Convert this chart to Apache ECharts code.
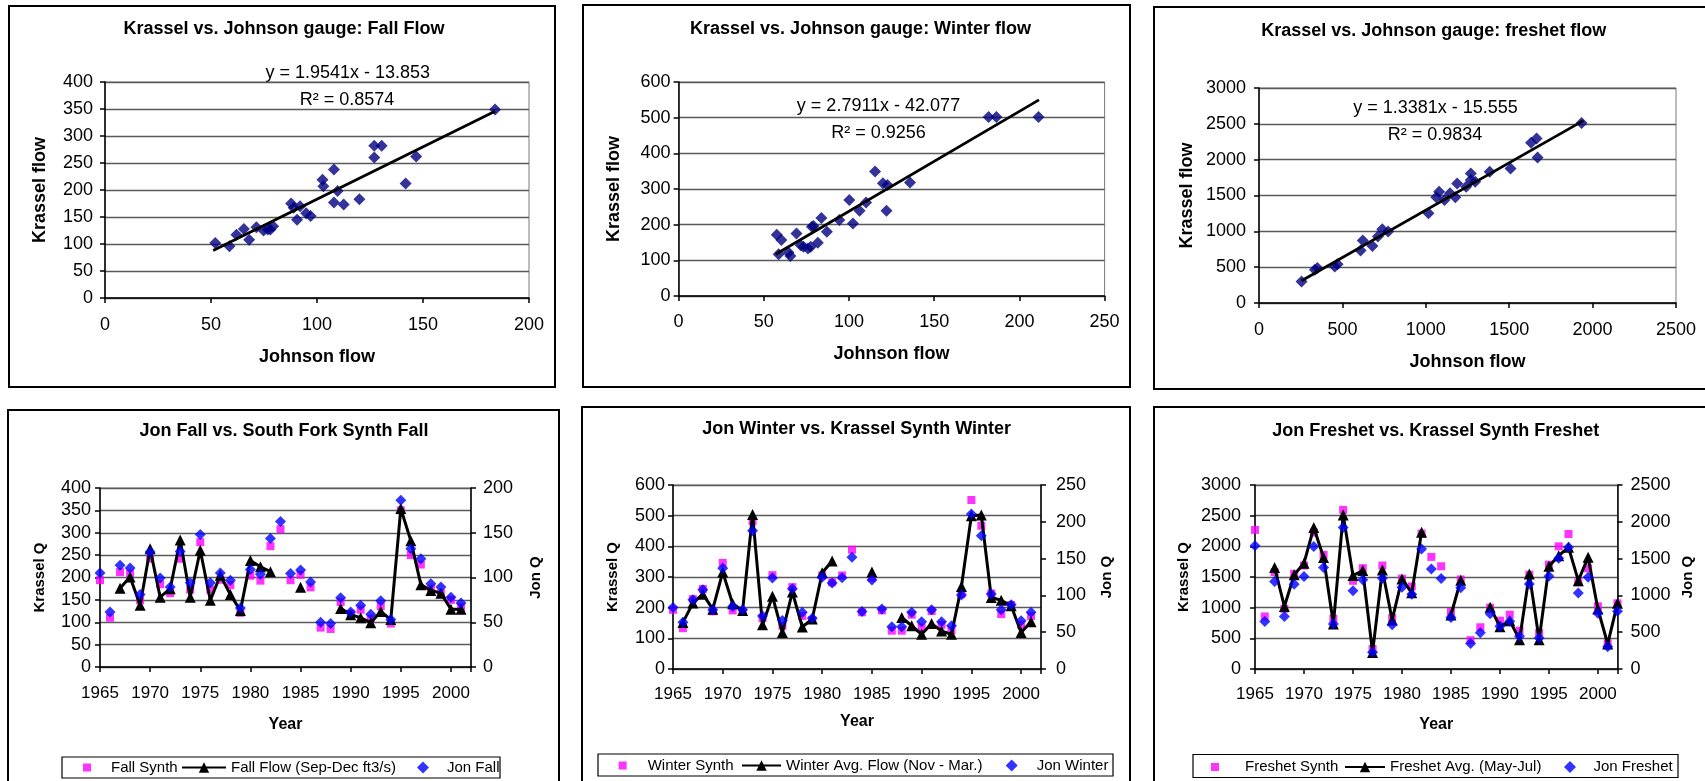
<!DOCTYPE html>
<html>
<head>
<meta charset="utf-8">
<script src="https://cdn.jsdelivr.net/npm/echarts@6/dist/echarts.min.js"></script>
<style>
html,body{margin:0;padding:0;background:#fff;}
#c{width:1705px;height:781px;}
</style>
</head>
<body>
<div id="c"></div>
<script>
// ---------------- DATA ----------------
const years = [1965,1966,1967,1968,1969,1970,1971,1972,1973,1974,1975,1976,1977,1978,1979,1980,1981,1982,1983,1984,1985,1986,1987,1988,1989,1990,1991,1992,1993,1994,1995,1996,1997,1998,1999,2000,2001,2002];

// Fall time series
const fallSynth = [194,110,212,209,149,242,185,165,242,173,279,173,195,183,121,204,193,270,308,194,206,178,88,85,145,119,128,108,136,97,350,250,229,175,165,150,134,null];
const fallFlow  = [null,null,176,201,138,264,156,175,284,156,261,149,205,162,126,238,224,213,null,null,178,null,null,null,131,117,110,99,124,106,354,282,184,171,165,129,129,null];
const jonFall   = [105,61.5,113.6,110.6,81,128.5,99.4,89.4,129,94,148,94,105,97,66,109,103.5,143.5,162.5,104.5,108.5,95,50,48.5,77.4,61.4,69,59,74,53,186.4,132,121,93,89.4,78,71.6,null];

// Winter time series
const winterSynth = [193,133,228,261,188,346,191,188,482,166,306,141,267,173,160,305,283,305,389,185,298,191,125,125,177,135,189,144,126,244,551,467,246,179,209,144,173,null];
const winterFlow  = [null,152,215,244,195,316,213,191,504,144,237,119,251,137,163,314,352,null,null,null,316,null,null,168,141,113,148,124,113,269,500,502,233,224,206,119,154,null];
const jonWinter   = [83.6,63.6,94,107.7,80.4,137,85,80.4,188,72,123.6,66,109,77,69,124.5,116.7,124,152,78,121,81.5,57.5,57.5,77,64.3,80.6,64.3,58.9,100.5,210.6,181,102,80.6,87.4,65.7,77,null];

// Freshet time series
const freshetSynth = [2268,857,1579,982,1552,1687,2225,1861,819,2594,1438,1644,326,1687,830,1473,1346,2208,1828,1675,930,1460,470,680,1000,788,886,625,1538,587,1701,2000,2201,1413,1641,1022,418,1071];
const freshetFlow  = [null,null,1655,1020,1536,1725,2306,1818,733,2512,1525,1606,271,1614,800,1468,1243,2228,null,null,880,1447,null,null,1008,690,788,478,1549,478,1674,1848,1984,1440,1821,978,408,1071];
const jonFreshet   = [1673,647,1189,714,1153,1257,1664,1379,611,1922,1063,1212,226,1234,600,1110,1017,1632,1360,1230,700,1104,345,493,749,580,648,444,1155,421,1259,1504,1653,1033,1245,756,303,783];

// Scatter (Johnson vs Krassel)
const fallJohnson = [52,58.7,62,65.5,68,71.4,74.8,76.8,78,79.3,87.8,89,90.6,92,94.9,97,102.6,103,108,108,109.7,112.6,120,127,127,130.5,141.8,146.8,184];
const fallKrassel = [102,96,117,128,108,131,125,127,127,133,175,167,145,170,157,152,219,207,238,177,198,173,183,282,260,282,212,262,349];
const winterJohnson = [57.6,60.3,58.7,64.5,65.6,69.2,71.7,73.3,75.9,77.5,78.2,79.2,81.7,83.8,87,94.3,100.2,102.3,106.2,110,115.3,119.9,122.6,122,135.8,181.9,186.5,211.2];
const winterKrassel = [172,157,117,122,112,175,142,138,133,138,194,196,149,219,180,213,269,203,239,262,349,316,311,239,318,502,502,502];
const freshetJohnson = [255,335,350,454,471,609,622,680,713,739,774,1016,1063,1080,1112,1145,1177,1188,1242,1270,1270,1296,1383,1508,1631,1664,1670,1934];
const freshetKrassel = [301,464,487,510,542,733,872,797,927,1029,997,1252,1474,1553,1437,1530,1474,1669,1623,1808,1715,1692,1831,1878,2235,2295,2031,2513];

// Trend line end points
const fallTrendX = [51, 184];      const fallTrendY = [88, 346];
const winterTrendX = [57, 211.5];  const winterTrendY = [117, 550];
const freshetTrendX = [255, 1945]; const freshetTrendY = [310, 2545];

// Texts
const titles = ['Krassel vs. Johnson gauge: Fall Flow','Krassel vs. Johnson gauge: Winter flow','Krassel vs. Johnson gauge: freshet flow',
                'Jon Fall vs. South Fork Synth Fall','Jon Winter vs. Krassel Synth Winter','Jon Freshet vs. Krassel Synth Freshet'];
const equations = ['y = 1.9541x - 13.853','y = 2.7911x - 42.077','y = 1.3381x - 15.555'];
const rSquared = ['R\u00b2 = 0.8574','R\u00b2 = 0.9256','R\u00b2 = 0.9834'];
const seriesNames = [
  ['Fall Synth','Fall Flow (Sep-Dec ft3/s)','Jon Fall'],
  ['Winter Synth','Winter Avg. Flow (Nov - Mar.)','Jon Winter'],
  ['Freshet Synth','Freshet Avg. (May-Jul)','Jon Freshet']
];
// axis ranges [min, max, step]
const scatterX = [[0,200,50],[0,250,50],[0,2500,500]];
const scatterY = [[0,400,50],[0,600,100],[0,3000,500]];
const tsLeft  = [[0,400,50],[0,600,100],[0,3000,500]];
const tsRight = [[0,200,50],[0,250,50],[0,2500,500]];
const yearRange = [1965, 2002, 5];

// ---------------- BUILD ----------------
const FONT = '"Liberation Sans", Arial, Helvetica, sans-serif';
const zip = (a,b) => a.map((v,i)=>[v,b[i]]);
const byYear = vals => years.map((y,i)=>[y, vals[i]]);
const byYearPts = vals => byYear(vals).filter(p=>p[1]!=null);

const grids = [
  {left:105,   top:82,  width:424,   height:216},
  {left:678.6, top:82,  width:426,   height:214},
  {left:1259,  top:88,  width:417,   height:215},
  {left:100,   top:488, width:371,   height:179},
  {left:673,   top:485, width:368,   height:184},
  {left:1255,  top:485, width:362.5, height:184}
];
grids.forEach(g=>{ g.show = true; g.borderColor = '#7a7a7a'; g.borderWidth = 1; g.backgroundColor = 'transparent'; });

const plainFmt = v => String(v);
const yearFmt = v => (v % 5 === 0 ? String(v) : '');

function axis(o){
  return {
    type:'value', gridIndex:o.g, min:o.r[0], max:o.r[1], interval:o.r[2], position:o.pos,
    axisLine:{show:true, onZero:false, lineStyle:{color:'#000', width:1.5}},
    axisTick:{show:true, length:5, lineStyle:{color:'#000', width:1.5}},
    axisLabel:{color:'#000', fontSize:o.fs, fontFamily:FONT, margin:o.margin, formatter:o.fmt || plainFmt},
    splitLine:{show:!!o.split, lineStyle:{color:'#5a5a5a', width:1.3}},
    name:o.name, nameLocation:'middle', nameGap:o.gap,
    nameTextStyle:{color:'#000', fontSize:o.nfs, fontWeight:'bold', fontFamily:FONT}
  };
}

const xAxis = [
  axis({g:0, r:scatterX[0], pos:'bottom', fs:18, margin:18, name:'Johnson flow', gap:50, nfs:18}),
  axis({g:1, r:scatterX[1], pos:'bottom', fs:18, margin:17, name:'Johnson flow', gap:49, nfs:18}),
  axis({g:2, r:scatterX[2], pos:'bottom', fs:18, margin:18, name:'Johnson flow', gap:50, nfs:18}),
  axis({g:3, r:yearRange, pos:'bottom', fs:17, margin:18, name:'Year', gap:50, nfs:16, fmt:yearFmt}),
  axis({g:4, r:yearRange, pos:'bottom', fs:17, margin:17, name:'Year', gap:45, nfs:16, fmt:yearFmt}),
  axis({g:5, r:yearRange, pos:'bottom', fs:17, margin:17, name:'Year', gap:48, nfs:16, fmt:yearFmt})
];
const yAxis = [
  axis({g:0, r:scatterY[0], pos:'left', fs:18, margin:12, split:true, name:'Krassel flow', gap:56, nfs:18}),
  axis({g:1, r:scatterY[1], pos:'left', fs:18, margin:8,  split:true, name:'Krassel flow', gap:56, nfs:18}),
  axis({g:2, r:scatterY[2], pos:'left', fs:18, margin:13, split:true, name:'Krassel flow', gap:63, nfs:18}),
  axis({g:3, r:tsLeft[0],  pos:'left',  fs:18, margin:9,  split:true, name:'Krassel Q', gap:53, nfs:15}),
  axis({g:3, r:tsRight[0], pos:'right', fs:18, margin:12, name:'Jon Q', gap:57, nfs:15}),
  axis({g:4, r:tsLeft[1],  pos:'left',  fs:18, margin:8,  split:true, name:'Krassel Q', gap:53, nfs:15}),
  axis({g:4, r:tsRight[1], pos:'right', fs:18, margin:15, name:'Jon Q', gap:58, nfs:15}),
  axis({g:5, r:tsLeft[2],  pos:'left',  fs:18, margin:14, split:true, name:'Krassel Q', gap:64, nfs:15}),
  axis({g:5, r:tsRight[2], pos:'right', fs:18, margin:13, name:'Jon Q', gap:63, nfs:15})
];

const series = [];
const scatterSets = [[fallJohnson,fallKrassel,fallTrendX,fallTrendY],[winterJohnson,winterKrassel,winterTrendX,winterTrendY],[freshetJohnson,freshetKrassel,freshetTrendX,freshetTrendY]];
scatterSets.forEach((s,i)=>{
  series.push({type:'scatter', name:'scatter'+i, xAxisIndex:i, yAxisIndex:i, data:zip(s[0],s[1]),
    symbol:'diamond', symbolSize:12, itemStyle:{color:'#000080'}, z:2});
  series.push({type:'line', name:'trend'+i, xAxisIndex:i, yAxisIndex:i, data:zip(s[2],s[3]),
    symbol:'none', lineStyle:{color:'#000', width:2.8}, z:3});
});
const tsSets = [[fallSynth,fallFlow,jonFall],[winterSynth,winterFlow,jonWinter],[freshetSynth,freshetFlow,jonFreshet]];
tsSets.forEach((s,i)=>{
  const xi = 3+i, yl = 3+2*i, yr = 4+2*i;
  series.push({type:'scatter', name:seriesNames[i][0], xAxisIndex:xi, yAxisIndex:yl, data:byYearPts(s[0]),
    symbol:'rect', symbolSize:8, itemStyle:{color:'#FF00FF'}, z:2});
  series.push({type:'line', name:seriesNames[i][1], xAxisIndex:xi, yAxisIndex:yl, data:byYear(s[1]),
    symbol:'triangle', symbolSize:11, showAllSymbol:true, connectNulls:false,
    itemStyle:{color:'#000'}, lineStyle:{color:'#000', width:3}, z:3});
  series.push({type:'scatter', name:seriesNames[i][2], xAxisIndex:xi, yAxisIndex:yr, data:byYearPts(s[2]),
    symbol:'diamond', symbolSize:11, itemStyle:{color:'#0000FF'}, z:4});
});

const SQUARE_ICON = 'path://M0,0M13,13M2.5,2.5L10.5,2.5L10.5,10.5L2.5,10.5Z';
const DIAMOND_ICON = 'path://M0,0M13,13M6.5,0.5L12.5,6.5L6.5,12.5L0.5,6.5Z';
const legendPos = [
  // [left, itemWidth] per item, top
  {top:760, items:[[80.5,38],[181,44],[416.5,38]]},
  {top:758, items:[[616.2,40],[741,39],[1005.2,40]]},
  {top:759.5, items:[[1208.5,50],[1344,40],[1563.5,37]]}
];
const legend = [];
legendPos.forEach((lp,i)=>{
  lp.items.forEach((it,j)=>{
    const d = {name:seriesNames[i][j]};
    if (j===0) d.icon = SQUARE_ICON;
    if (j===2) d.icon = DIAMOND_ICON;
    legend.push({data:[d], left:it[0], top:lp.top, padding:0, itemWidth:it[1], itemHeight:13, itemGap:0,
      selectedMode:false, textStyle:{color:'#000', fontSize:15, fontFamily:FONT}});
  });
});

const graphic = [];
const borders = [[9,6,546,381],[583,5,547,382],[1154,7,600,382],[8,410,551,400],[582,407,548,400],[1154,407,600,400]];
borders.forEach(b=>graphic.push({type:'rect', silent:true, shape:{x:b[0],y:b[1],width:b[2],height:b[3]}, style:{fill:'none', stroke:'#000', lineWidth:2}}));
const legendBoxes = [[62,757,438,21],[598,754,515,22],[1193,754.5,485,23]];
legendBoxes.forEach(b=>graphic.push({type:'rect', silent:true, shape:{x:b[0],y:b[1],width:b[2],height:b[3]}, style:{fill:'none', stroke:'#000', lineWidth:1.2}}));
const titlePos = [[284,29],[860.5,29.3],[1433.7,31],[284,430.7],[856.7,429.5],[1435.8,430.7]];
titlePos.forEach((p,i)=>graphic.push({type:'text', silent:true, x:p[0], y:p[1],
  style:{text:titles[i], fontSize:18, fontWeight:'bold', fontFamily:FONT, fill:'#000', align:'center', verticalAlign:'middle'}}));
const eqPos = [[347.7,73.3,347,100],[878.5,106,878.6,132.7],[1435.5,108.3,1435,135]];
eqPos.forEach((p,i)=>{
  graphic.push({type:'text', silent:true, x:p[0], y:p[1], style:{text:equations[i], fontSize:18, fontFamily:FONT, fill:'#000', align:'center', verticalAlign:'middle'}});
  graphic.push({type:'text', silent:true, x:p[2], y:p[3], style:{text:rSquared[i], fontSize:18, fontFamily:FONT, fill:'#000', align:'center', verticalAlign:'middle'}});
});

const chart = echarts.init(document.getElementById('c'));
chart.setOption({
  animation:false,
  backgroundColor:'#fff',
  textStyle:{fontFamily:FONT},
  grid:grids, xAxis:xAxis, yAxis:yAxis, series:series, legend:legend, graphic:graphic
});
</script>
</body>
</html>
